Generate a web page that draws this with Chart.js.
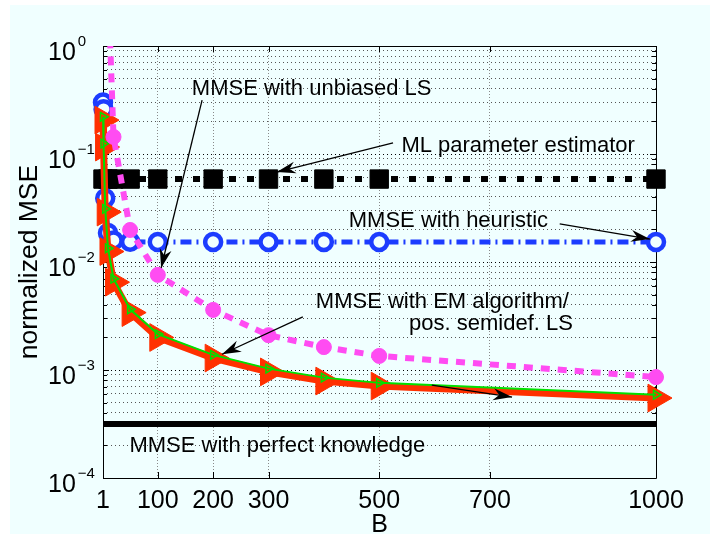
<!DOCTYPE html>
<html>
<head>
<meta charset="utf-8">
<script src="https://cdn.jsdelivr.net/npm/chart.js@4.4.0/dist/chart.umd.min.js"></script>
<style>
  html, body { margin: 0; padding: 0; background: #ffffff; }
  canvas { display: block; }
</style>
</head>
<body>
<canvas id="mseChart" width="710" height="536"></canvas>
<script>
// tick values
var xTicks = [1, 100, 200, 300, 500, 700, 1000];
var yDecades = [1e-4, 1e-3, 1e-2, 1e-1, 1];

// series (B, normalized MSE)
var bPerfect = [1, 1000];
var msePerfect = [3.16e-4, 3.16e-4];

var bML = [1, 10, 20, 50, 100, 200, 300, 400, 500, 1000];
var mseML = [0.0586, 0.0586, 0.0586, 0.0586, 0.0586, 0.0586, 0.0586, 0.0586, 0.0586, 0.0586];

var bHeur = [1, 2, 5, 10, 20, 50, 100, 200, 300, 400, 500, 1000];
var mseHeur = [0.30, 0.26, 0.039, 0.0186, 0.0158, 0.0154, 0.0153, 0.0153, 0.0153, 0.0153, 0.0153, 0.0153];

var bLS = [1, 10, 20, 50, 100, 200, 300, 400, 500, 1000];
var mseLS = [30, 4, 0.144, 0.0198, 0.0076, 0.0036, 0.0021, 0.00163, 0.00135, 0.00086];

var bEM = [1, 2, 5, 10, 20, 50, 100, 200, 300, 400, 500, 1000];
var mseEM = [0.221, 0.125, 0.031, 0.0134, 0.0070, 0.00365, 0.00215, 0.00138, 0.00103, 0.00085, 0.00076, 0.00059];
var msePSD = [0.206, 0.116, 0.029, 0.0125, 0.0065, 0.0034, 0.0020, 0.00129, 0.00096, 0.00079, 0.00071, 0.00055];

// annotations, in data coordinates
var notes = [
  { text: 'MMSE with unbiased LS', at: [378, 0.3516] },
  { text: 'ML parameter estimator', at: [751, 0.1044] },
  { text: 'MMSE with heuristic', at: [625, 0.0211] },
  { text: 'MMSE with EM algorithm/', at: [614, 0.00375] },
  { text: 'pos. semidef. LS', at: [702, 0.00234] },
  { text: 'MMSE with perfect knowledge', at: [316, 0.000174] }
];
var arrows = [
  { from: [180, 0.316], to: [106, 0.0088] },
  { from: [525, 0.1265], to: [315, 0.068] },
  { from: [826, 0.0225], to: [989, 0.0163] },
  { from: [362, 0.0031], to: [216, 0.0014] },
  { from: [595, 0.000726], to: [740, 0.000562] }
];

function pts(xs, ys) {
  return xs.map(function (x, i) { return { x: x, y: ys[i] }; });
}

var bg = '#f0ffff';
var fontName = '"Liberation Sans", Arial, sans-serif';
var markClip = { left: 25, right: 25, top: 0, bottom: 0 };

var backdrop = {
  id: 'backdrop',
  beforeDraw: function (chart) {
    var ctx = chart.ctx;
    ctx.save();
    ctx.fillStyle = '#ffffff';
    ctx.fillRect(0, 0, chart.width, chart.height);
    ctx.fillStyle = bg;
    ctx.fillRect(10, 5, chart.width - 10, chart.height - 7);
    ctx.restore();
  }
};

var axesBox = {
  id: 'axesBox',
  beforeDatasetsDraw: function (chart) {
    var ctx = chart.ctx, a = chart.chartArea;
    var xs = chart.scales.x, ys = chart.scales.y;
    ctx.save();
    ctx.strokeStyle = '#000';
    ctx.lineWidth = 1;
    ctx.beginPath();
    ctx.rect(Math.round(a.left) + 0.5, Math.round(a.top) + 0.5,
             Math.round(a.right - a.left), Math.round(a.bottom - a.top));
    ctx.stroke();
    ctx.beginPath();
    xTicks.forEach(function (v) {
      var px = Math.round(xs.getPixelForValue(v)) + 0.5;
      ctx.moveTo(px, a.bottom); ctx.lineTo(px, a.bottom - 6);
      ctx.moveTo(px, a.top); ctx.lineTo(px, a.top + 6);
    });
    ys.ticks.forEach(function (t) {
      var py = Math.round(ys.getPixelForValue(t.value)) + 0.5;
      var len = t.major ? 6 : 4;
      ctx.moveTo(a.left, py); ctx.lineTo(a.left + len, py);
      ctx.moveTo(a.right, py); ctx.lineTo(a.right - len, py);
    });
    ctx.stroke();
    ctx.restore();
  }
};

function arrowHead(ctx, x0, y0, x1, y1) {
  var ang = Math.atan2(y1 - y0, x1 - x0);
  var len = 19, half = 6, notch = 13;
  ctx.save();
  ctx.translate(x1, y1);
  ctx.rotate(ang);
  ctx.beginPath();
  ctx.moveTo(0, 0);
  ctx.lineTo(-len, -half);
  ctx.lineTo(-notch, 0);
  ctx.lineTo(-len, half);
  ctx.closePath();
  ctx.fill();
  ctx.restore();
}

var labels = {
  id: 'labels',
  afterDraw: function (chart) {
    var ctx = chart.ctx, a = chart.chartArea;
    var xs = chart.scales.x, ys = chart.scales.y;
    ctx.save();
    ctx.fillStyle = '#000';
    ctx.strokeStyle = '#000';
    ctx.textBaseline = 'alphabetic';

    // y tick labels 10^k
    yDecades.forEach(function (v) {
      var py = ys.getPixelForValue(v);
      var e = Math.round(Math.log10(v));
      ctx.font = '25px ' + fontName;
      ctx.textAlign = 'left';
      ctx.fillText('10', 48, py + 14);
      var w = ctx.measureText('10').width;
      ctx.font = '15px ' + fontName;
      ctx.fillText(e < 0 ? '\u2212' + (-e) : String(e), 48 + w + 2, py);
    });

    // x tick labels
    ctx.font = '25px ' + fontName;
    ctx.textAlign = 'center';
    xTicks.forEach(function (v) {
      ctx.fillText(String(v), xs.getPixelForValue(v), 508);
    });

    // axis titles
    ctx.fillText('B', (a.left + a.right) / 2, 532);
    ctx.save();
    ctx.font = '26.5px ' + fontName;
    ctx.translate(37, (a.top + a.bottom) / 2);
    ctx.rotate(-Math.PI / 2);
    ctx.fillText('normalized MSE', 0, 0);
    ctx.restore();

    // annotation texts
    ctx.font = '22px ' + fontName;
    notes.forEach(function (n) {
      ctx.fillText(n.text, xs.getPixelForValue(n.at[0]), ys.getPixelForValue(n.at[1]));
    });

    // annotation arrows
    ctx.lineWidth = 1.3;
    arrows.forEach(function (ar) {
      var x0 = xs.getPixelForValue(ar.from[0]), y0 = ys.getPixelForValue(ar.from[1]);
      var x1 = xs.getPixelForValue(ar.to[0]), y1 = ys.getPixelForValue(ar.to[1]);
      ctx.beginPath();
      ctx.moveTo(x0, y0);
      ctx.lineTo(x1, y1);
      ctx.stroke();
      arrowHead(ctx, x0, y0, x1, y1);
    });
    ctx.restore();
  }
};

var config = {
  type: 'line',
  data: {
    datasets: [
      {
        label: 'MMSE with unbiased LS',
        data: pts(bLS, mseLS),
        borderColor: '#ff4cf2',
        borderWidth: 6,
        borderDash: [9, 8],
        pointStyle: 'circle',
        pointRadius: 7.5,
        pointBackgroundColor: '#ff4cf2',
        pointBorderColor: '#ff4cf2',
        pointBorderWidth: 1,
        clip: markClip,
        order: 0
      },
      {
        label: 'MMSE with EM algorithm',
        data: pts(bEM, mseEM),
        borderColor: '#00e000',
        borderWidth: 2,
        pointStyle: 'triangle',
        pointRotation: 90,
        pointRadius: 5,
        pointBackgroundColor: 'rgba(0,0,0,0)',
        pointBorderColor: '#00e000',
        pointBorderWidth: 1.5,
        clip: markClip,
        order: 1
      },
      {
        label: 'pos. semidef. LS',
        data: pts(bEM, msePSD),
        borderColor: '#ff3000',
        borderWidth: 7,
        pointStyle: 'triangle',
        pointRotation: 90,
        pointRadius: 16,
        pointBackgroundColor: '#ff3000',
        pointBorderColor: '#ff3000',
        pointBorderWidth: 1,
        clip: markClip,
        order: 2
      },
      {
        label: 'MMSE with heuristic',
        data: pts(bHeur, mseHeur),
        borderColor: '#1c3cff',
        borderWidth: 5,
        borderDash: [11, 5, 2, 5],
        pointStyle: 'circle',
        pointRadius: 8,
        pointBackgroundColor: bg,
        pointBorderColor: '#1c3cff',
        pointBorderWidth: 4.5,
        clip: markClip,
        order: 3
      },
      {
        label: 'ML parameter estimator',
        data: pts(bML, mseML),
        borderColor: '#000000',
        borderWidth: 6,
        borderDash: [7, 11],
        pointStyle: 'rect',
        pointRadius: 13,
        pointBackgroundColor: '#000000',
        pointBorderColor: '#000000',
        pointBorderWidth: 1,
        clip: markClip,
        order: 4
      },
      {
        label: 'MMSE with perfect knowledge',
        data: pts(bPerfect, msePerfect),
        borderColor: '#000000',
        borderWidth: 6,
        pointRadius: 0,
        clip: markClip,
        order: 5
      }
    ]
  },
  options: {
    responsive: false,
    animation: false,
    events: [],
    layout: { padding: { left: 103, top: 46, right: 54, bottom: 58 } },
    plugins: { legend: { display: false }, tooltip: { enabled: false } },
    elements: { line: { tension: 0, borderCapStyle: 'butt' } },
    scales: {
      x: {
        type: 'linear',
        min: 1,
        max: 1000,
        afterBuildTicks: function (s) {
          s.ticks = xTicks.map(function (v) { return { value: v }; });
        },
        afterFit: function (s) { s.height = 0; },
        ticks: { display: false },
        grid: {
          drawTicks: false,
          color: function (c) {
            var v = c.tick && c.tick.value;
            return (v === 1 || v === 1000) ? 'rgba(0,0,0,0)' : '#8a8a8a';
          },
          lineWidth: 1
        },
        border: { display: false, dash: [1, 2] }
      },
      y: {
        type: 'logarithmic',
        min: 1e-4,
        max: 1,
        afterBuildTicks: function (s) {
          var t = [];
          for (var i = 0; i < yDecades.length - 1; i++) {
            for (var k = 1; k <= 9; k++) {
              t.push({ value: k * yDecades[i], major: k === 1 });
            }
          }
          t.push({ value: yDecades[yDecades.length - 1], major: true });
          s.ticks = t;
        },
        afterFit: function (s) { s.width = 0; },
        ticks: { display: false },
        grid: {
          drawTicks: false,
          color: function (c) {
            var t = c.tick;
            if (!t || t.value <= 1e-4 || t.value >= 1) return 'rgba(0,0,0,0)';
            return t.major ? '#000000' : '#555555';
          },
          lineWidth: 1
        },
        border: { display: false, dash: [1, 3] }
      }
    }
  },
  plugins: [backdrop, axesBox, labels]
};

var mseChart = new Chart(document.getElementById('mseChart'), config);
</script>
</body>
</html>
